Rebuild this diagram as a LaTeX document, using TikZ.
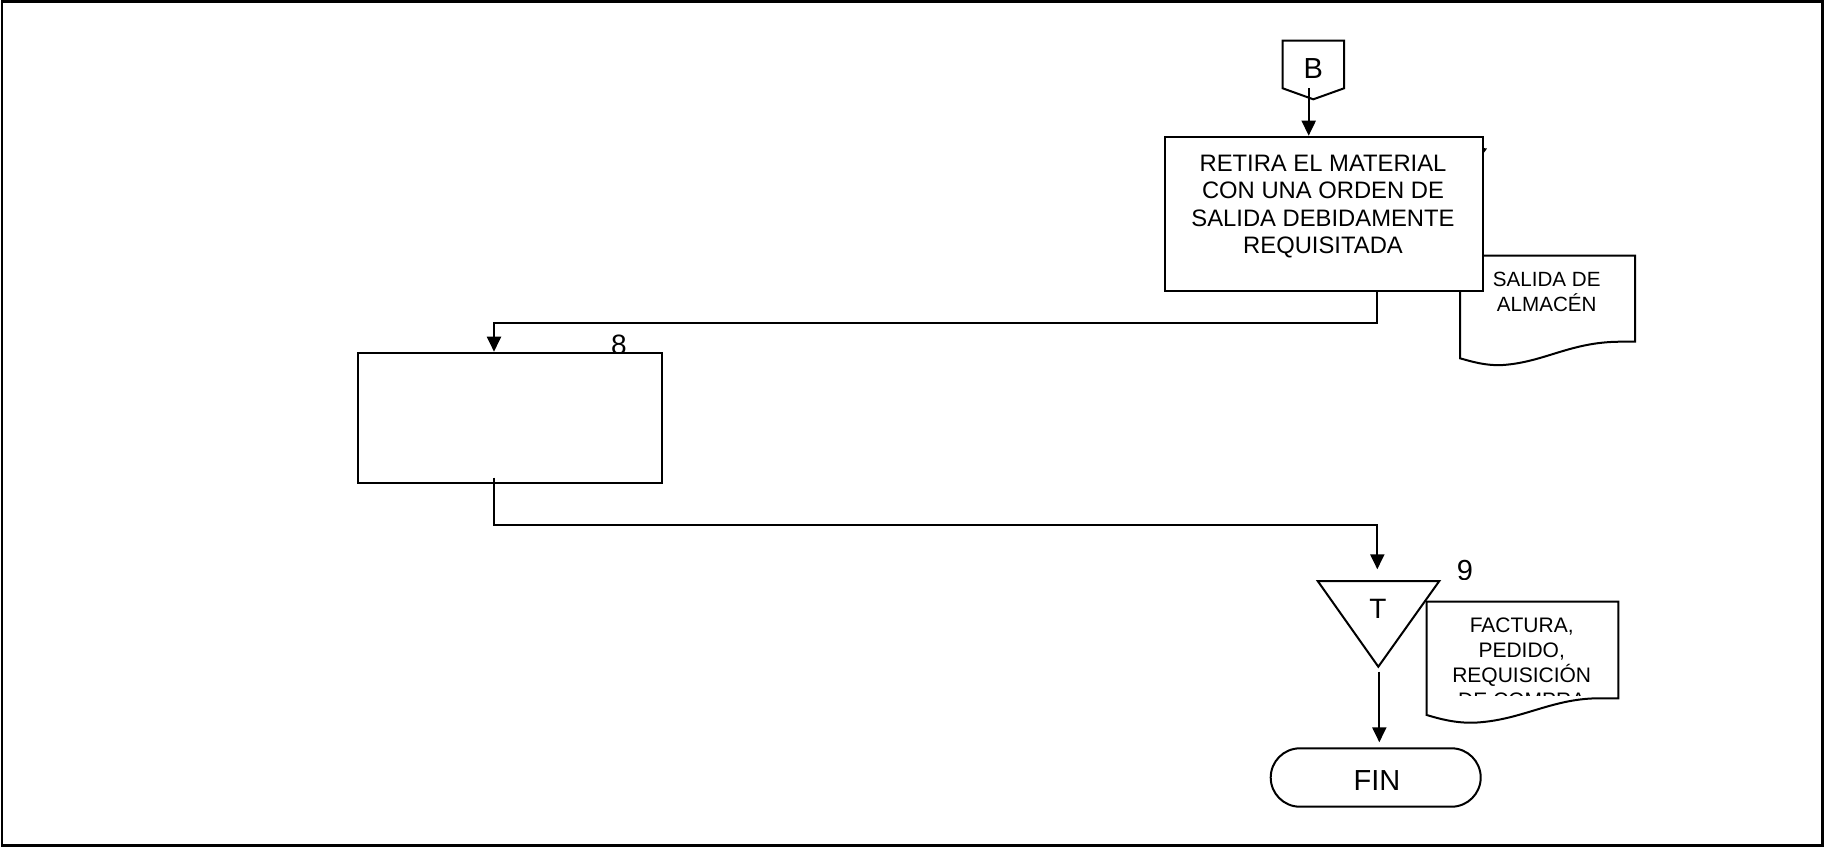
\documentclass[tikz,border=0pt]{standalone}
\usepackage{fontspec}
\setmainfont{Liberation Sans}
\usetikzlibrary{arrows.meta,calc,shapes.misc}
\begin{document}
\begin{tikzpicture}[x=0.5pt,y=-0.5pt, line width=1pt,
  arr/.style={-{Triangle[length=7.5pt,width=7pt]}},
  procbox/.style={draw, fill=white, rectangle, inner sep=0pt},
  docshape/.style={draw, fill=white},
  lbl/.style={inner sep=0pt, align=center},
]
\useasboundingbox (0,0) rectangle (1824,847);
\draw[line width=1.3pt] (2,1.5) rectangle (1822.5,845.5);

% off-page connector B
\draw (1282.7,40.7) -- (1344,40.7) -- (1344,88.3) -- (1313.3,99.3) -- (1282.7,88.3) -- cycle;
\node[lbl, font=\fontsize{14.5}{16}\selectfont] (B) at (1313.3,69) {B};
\coordinate (Bout) at (1308.7,88);

% document SALIDA DE ALMACEN
\draw[docshape] (1460,255.7) -- (1635,255.7) -- (1635,341.7) -- (1620,341.7)
  .. controls (1570,342) and (1545,362) .. (1503,365)
  .. controls (1485,366) and (1470,361) .. (1460,358.3) -- cycle;
\node[lbl, font=\fontsize{10.3}{12.5}\selectfont] (doc1) at (1546.7,292) {SALIDA DE\\ALMACÉN};

% process box 1
\node[procbox, minimum width=158.85pt, minimum height=77pt] (box1) at (1323.9,213.7) {};
\node[lbl, font=\fontsize{11.9}{13.65}\selectfont] (box1txt) at (1323,206.5)
  {RETIRA EL MATERIAL\\CON UNA ORDEN DE\\SALIDA DEBIDAMENTE\\REQUISITADA};
\fill (1483,148) -- (1487,148.5) -- (1483,154) -- cycle;

\draw[arr] (Bout) -- (Bout |- box1.north);

% number 8 and box 2
\node[lbl, anchor=base, font=\fontsize{14}{16}\selectfont] (n8) at (619,354) {8};
\node[procbox, minimum width=151.7pt, minimum height=65.3pt] (box2) at (510,418) {};

\draw[arr] ($(box1.south)+(52.8,0)$) -- ++(0,31) -| ($(box2.north)+(-16,0)$);

% document FACTURA
\draw[docshape] (1426.7,601.7) -- (1618.3,601.7) -- (1618.3,698.3) -- (1597,698.3)
  .. controls (1550,699) and (1520,721) .. (1473,722.7)
  .. controls (1455,723) and (1440,719) .. (1426.7,715) -- cycle;
\begin{scope}
  \clip (1427,602) rectangle (1618,695);
  \node[lbl, font=\fontsize{10.5}{12.5}\selectfont] (doc2) at (1521.7,662.5)
    {FACTURA,\\PEDIDO,\\REQUISICIÓN\\DE COMPRA};
\end{scope}

% triangle (archive)
\coordinate (triL) at (1317.7,581);
\coordinate (triR) at (1439.3,581);
\coordinate (triB) at (1378.3,666.7);
\draw (triL) -- (triR) -- (triB) -- cycle;
\node[lbl, font=\fontsize{14}{16}\selectfont] (T) at (1378,609) {T};
\begin{scope}
  \clip (1440,540) rectangle (1495,579);
  \node[lbl, anchor=base, font=\fontsize{14.5}{16}\selectfont] (n9) at (1465,580) {9};
\end{scope}

\coordinate (arrT) at (1377.3,569.3);
\draw[arr] ($(box2.south)+(-16,-6.6)$) -- ++(0,46.8) -| (arrT);

% FIN
\node[draw, rounded rectangle, minimum width=105pt, minimum height=29.2pt, inner sep=0pt] (fin) at (1375.7,777.5) {};
\node[lbl, font=\fontsize{14.5}{16}\selectfont] (fintxt) at (1377,781) {FIN};
\coordinate (triOut) at (1379.3,671.7);
\draw[arr] (triOut) -- ($(triOut |- fin.north)+(0,-5)$);
\end{tikzpicture}
\end{document}
